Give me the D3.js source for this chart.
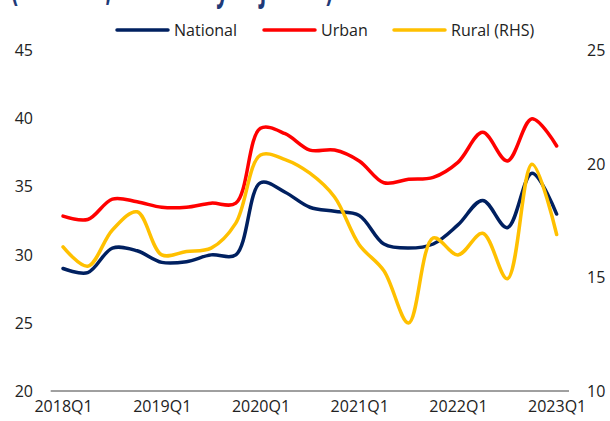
<!DOCTYPE html>
<html>
<head>
<meta charset="utf-8">
<script src="https://cdn.jsdelivr.net/npm/d3@7"></script>
<style>
  body { margin: 0; background: #fff; }
  text { font-family: "Open Sans", sans-serif; }
</style>
</head>
<body>
<div id="chart"></div>
<script>
const quarters = [];
for (let y = 2018; y <= 2023; y++) for (let q = 1; q <= 4; q++) if (quarters.length < 21) quarters.push(y + "Q" + q);

const national = [29.0, 28.7, 30.5, 30.3, 29.45, 29.5, 30.0, 30.0, 35.3, 34.6, 33.5, 33.2, 32.9, 30.8, 30.5, 30.8, 32.2, 34.0, 32.0, 36.0, 33.0];
const urban    = [32.85, 32.6, 34.1, 33.9, 33.5, 33.5, 33.8, 33.8, 39.3, 38.9, 37.7, 37.7, 36.9, 35.3, 35.55, 35.7, 36.8, 39.0, 36.9, 40.0, 38.0];
const rural    = [16.35, 15.5, 17.1, 17.9, 16.0, 16.15, 16.3, 17.4, 20.4, 20.2, 19.6, 18.55, 16.45, 15.3, 13.0, 16.75, 16.0, 16.95, 14.95, 20.0, 16.9];

const leftTicks = [20, 25, 30, 35, 40, 45];
const rightTicks = [10, 15, 20, 25];
const xTickLabels = ["2018Q1", "2019Q1", "2020Q1", "2021Q1", "2022Q1", "2023Q1"];

const series = [
  {name: "National", values: national, color: "#002060", axis: "left"},
  {name: "Urban", values: urban, color: "#FF0000", axis: "left"},
  {name: "Rural (RHS)", values: rural, color: "#FFC000", axis: "right"}
];

const W = 610, H = 421;
const svg = d3.select("#chart").append("svg")
  .attr("width", W).attr("height", H);

const x = d3.scalePoint().domain(quarters).range([50.7, 569]).padding(0.5);
const yL = d3.scaleLinear().domain([20, 45]).range([391, 50.7]);
const yR = d3.scaleLinear().domain([10, 25]).range([391, 50.7]);

// title, mostly above the top edge (only descenders show, as in the source)
svg.append("text")
  .attr("x", 11).attr("y", 0)
  .attr("fill", "#1F3A78")
  .style("font-weight", "bold")
  .style("font-size", "38px")
  .attr("textLength", 322)
  .attr("lengthAdjust", "spacingAndGlyphs")
  .text("(Per cent, seasonally adjusted)");

// left axis
svg.append("g")
  .attr("transform", "translate(33,0)")
  .call(d3.axisLeft(yL).tickValues(leftTicks).tickSize(0).tickPadding(0))
  .call(g => g.select(".domain").remove())
  .selectAll("text")
  .style("font-size", "16px").attr("fill", "#222").attr("font-family", "Open Sans");

// right axis
svg.append("g")
  .attr("transform", "translate(587,0)")
  .call(d3.axisRight(yR).tickValues(rightTicks).tickSize(0).tickPadding(0))
  .call(g => g.select(".domain").remove())
  .selectAll("text")
  .style("font-size", "16px").attr("fill", "#222").attr("font-family", "Open Sans");

// bottom axis
svg.append("line")
  .attr("x1", 50.7).attr("x2", 569)
  .attr("y1", 391).attr("y2", 391)
  .attr("stroke", "#404040").attr("stroke-width", 1);

svg.append("g")
  .attr("transform", "translate(0,401)")
  .call(d3.axisBottom(x).tickValues(xTickLabels).tickSize(0).tickPadding(0))
  .call(g => g.select(".domain").remove())
  .selectAll("text")
  .style("font-size", "16px").attr("fill", "#222").attr("font-family", "Open Sans");

// lines
series.forEach(s => {
  const yS = s.axis === "left" ? yL : yR;
  const line = d3.line()
    .x((d, i) => x(quarters[i]))
    .y(d => yS(d))
    .curve(d3.curveCatmullRom.alpha(0.5));
  svg.append("path")
    .datum(s.values)
    .attr("fill", "none")
    .attr("stroke", s.color)
    .attr("stroke-width", 3.5)
    .attr("stroke-linejoin", "round")
    .attr("stroke-linecap", "round")
    .attr("d", line);
});

// legend
const legendX = [117, 264, 394];
const legend = svg.append("g");
series.forEach((s, i) => {
  const g = legend.append("g").attr("transform", `translate(${legendX[i]},30)`);
  g.append("line")
    .attr("x1", 0).attr("x2", 51)
    .attr("stroke", s.color).attr("stroke-width", 3.5)
    .attr("stroke-linecap", "round");
  g.append("text")
    .attr("x", 57).attr("y", 6)
    .style("font-size", "16px")
    .attr("fill", "#222")
    .text(s.name);
});
</script>
</body>
</html>
